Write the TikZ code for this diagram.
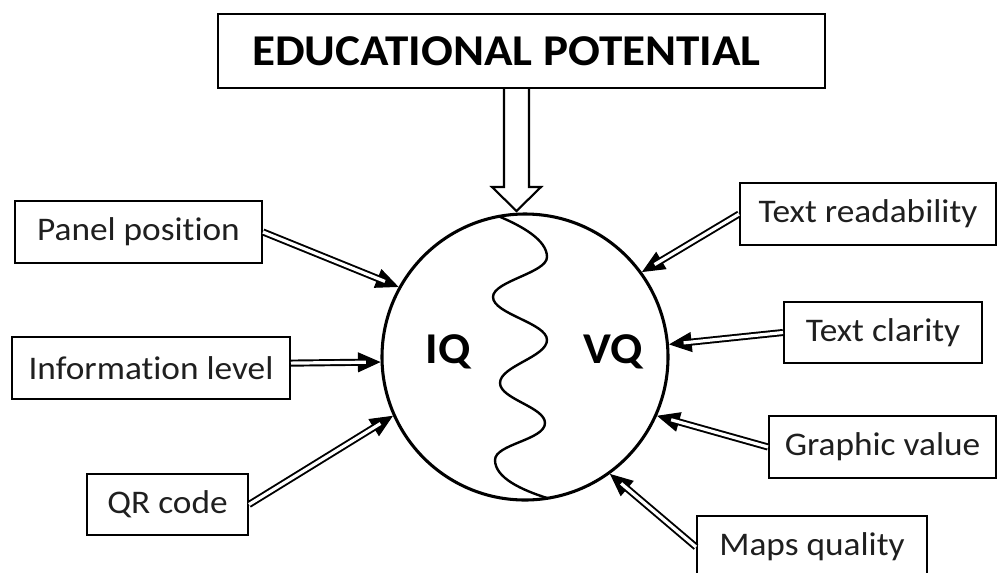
\documentclass[tikz,border=0pt]{standalone}
\usepackage{fontspec}
\setmainfont[Ligatures=NoCommon, FakeStretch=1.07]{Carlito}
\usetikzlibrary{arrows.meta,calc}
\newcommand\myarrow[2]{%
  \draw[dtip] (#1) -- (#2);
  \draw[dshaft] (#1) -- (#2);}
\begin{document}
\begin{tikzpicture}[x=0.75pt,y=-0.75pt,
  lbl/.style={draw, line width=1.5pt, inner sep=0pt, text=black!88,
    font=\fontsize{24.75}{28}\selectfont},
  tbox/.style={draw, line width=2pt, inner sep=0pt,
    font=\bfseries\fontsize{33}{38}\selectfont},
  circ/.style={draw, circle, line width=2.3pt, inner sep=0pt,
    minimum size=286*0.75pt},
  qlabel/.style={font=\bfseries\fontsize{33}{38}\selectfont},
  dtip/.style={-{Triangle[length=17pt,width=15pt]}, line width=0.8pt},
  dshaft/.style={double, double distance=2.4pt, line width=1.45pt,
    shorten >=11pt}]
\useasboundingbox (0,0) rectangle (997,572);
\fill[white] (0,0) rectangle (997,572);

% hollow arrow from title to circle
\draw[line width=1.6pt, fill=white, line join=miter]
  (504,88) -- (504,187) -- (492,187) -- (516.5,211) -- (541,187)
  -- (529,187) -- (529,88);

\node[tbox, minimum width=607*0.75pt, minimum height=74*0.75pt]
  (title) at (521.5,51) {\hspace*{-22.5pt}EDUCATIONAL POTENTIAL};

\node[circ] (c) at (525,357) {};
\draw[line width=1.8pt]
  (498,216) .. controls (522,226) and (547,240) .. (547,257)
  .. controls (547,273) and (493,281) .. (493,297)
  .. controls (493,314) and (547,323) .. (547,340)
  .. controls (547,357) and (500,366) .. (500,383)
  .. controls (500,399) and (545,407) .. (545,423)
  .. controls (545,440) and (495,444) .. (495,460)
  .. controls (495,478) and (522,490) .. (547,498);
\node[qlabel] (iq) at (448,352) {IQ};
\node[qlabel] (vq) at (613,352) {VQ};

\node[lbl, minimum width=247*0.75pt, minimum height=62*0.75pt]
  (panel) at (138.5,232) {Panel position};
\node[lbl, minimum width=278*0.75pt, minimum height=62*0.75pt]
  (info) at (151,368) {Information level};
\node[lbl, minimum width=161*0.75pt, minimum height=61*0.75pt]
  (qr) at (167.5,504.5) {QR code};
\node[lbl, minimum width=256*0.75pt, minimum height=62*0.75pt]
  (read) at (868,214) {Text readability};
\node[lbl, minimum width=198*0.75pt, minimum height=61*0.75pt]
  (clar) at (883,332.5) {Text clarity};
\node[lbl, minimum width=227*0.75pt, minimum height=62*0.75pt]
  (graph) at (882.5,447) {Graphic value};
\node[lbl, minimum width=230*0.75pt, minimum height=62*0.75pt]
  (maps) at (812,547) {Maps quality};

\myarrow{panel.east}{c.151.6}
\myarrow{info.2}{c.182}
\myarrow{qr.east}{c.204.6}
\myarrow{read.west}{c.36.6}
\myarrow{clar.west}{c.5.5}
\myarrow{graph.west}{c.-24.4}
\myarrow{maps.west}{c.-54}
\end{tikzpicture}
\end{document}
